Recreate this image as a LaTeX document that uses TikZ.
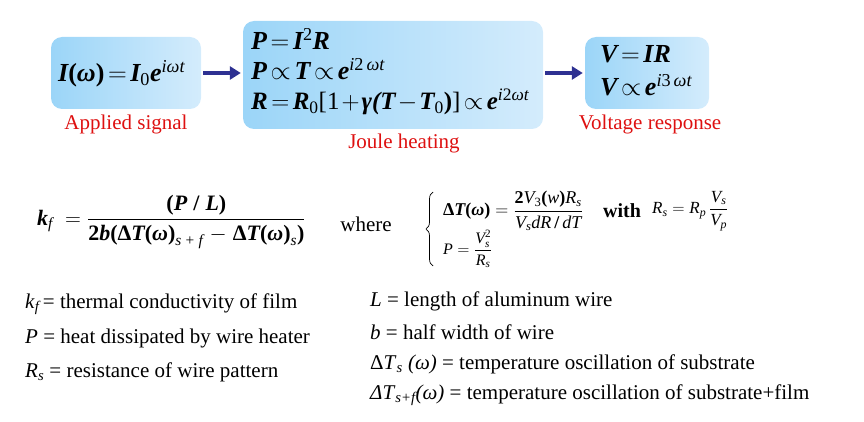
\RequirePackage{fix-cm}
\documentclass[tikz,border=0pt]{standalone}
\usepackage{amsmath}
\usepackage{fontspec}
\setmainfont{Liberation Serif}
\usetikzlibrary{decorations.pathreplacing,arrows.meta}
\newcommand\bi[1]{\text{\bfseries\itshape #1}}
\newcommand\ii[1]{\text{\normalfont\itshape #1}}
\newcommand\rr[1]{\text{\normalfont #1}}
\newcommand\bb[1]{\text{\normalfont\bfseries #1}}
\newcommand\tightmath{\thickmuskip=2.5mu\relax\medmuskip=1.5mu\relax}
\newcommand\widemath{\medmuskip=5mu\relax}
\definecolor{boxL}{RGB}{155,213,248}
\definecolor{boxR}{RGB}{212,236,252}
\definecolor{arrowc}{RGB}{46,49,146}
\definecolor{labred}{RGB}{222,16,16}
\tikzset{
  box/.style={rounded corners=11pt, left color=boxL, right color=boxR, draw=none, inner sep=0pt},
  arr/.style={draw=arrowc, line width=4.5pt, -{Triangle[length=11pt,width=13pt]}, shorten <=2pt, shorten >=2pt},
  eqbig/.style={anchor=base west, inner sep=0pt, font=\fontsize{26}{30}\selectfont},
  lab/.style={inner sep=0pt, text=labred, font=\fontsize{21}{24}\selectfont},
  deftext/.style={anchor=west, inner sep=0pt, font=\fontsize{21}{24}\selectfont},
}
\begin{document}
\begin{tikzpicture}[x=1pt,y=-1pt]
\useasboundingbox (0,0) rectangle (864,422);
% boxes
\node[box, minimum width=150pt, minimum height=72pt] (b1) at (126,73) {};
\node[box, minimum width=300pt, minimum height=108pt] (b2) at (393,75) {};
\node[box, minimum width=124pt, minimum height=72pt] (b3) at (647,73) {};
% box contents
\node[eqbig] (e1) at (58,82) {$\tightmath\bi{I}\bb{(}\bi{ω}\bb{)} = \bi{I}_{\rr{0}}\bi{e}^{\ii{iωt}}$};
\node[eqbig] (e2a) at (251,50) {$\tightmath\bi{P} = \bi{I}^{\rr{2}}\bi{R}$};
\node[eqbig] (e2b) at (251,80) {$\tightmath\bi{P} \propto \bi{T} \propto \bi{e}^{\ii{i}\rr{2}\,\ii{ωt}}$};
\node[eqbig, font=\fontsize{25}{30}\selectfont] (e2c) at (251,110) {$\tightmath\bi{R} = \bi{R}_{\rr{0}}\rr{[1} + \bi{γ}\bi{(}\bi{T} - \bi{T}_{\rr{0}}\bb{)}\rr{]} \propto \bi{e}^{\ii{i}\rr{2}\ii{ωt}}$};
\node[eqbig] (e3a) at (600,63) {$\tightmath\bi{V} = \bi{IR}$};
\node[eqbig] (e3b) at (600,96) {$\tightmath\bi{V} \propto \bi{e}^{\ii{i}\rr{3}\,\ii{ωt}}$};
% arrows
\draw[arr] (b1.east) -- (b2.west |- b1.east);
\draw[arr] (b2.east |- b3.west) -- (b3.west);
% labels
\node[lab] (l1) at (126,124) {Applied signal};
\node[lab] (l2) at (404,143) {Joule heating};
\node[lab] (l3) at (650,124) {Voltage response};
% main formula
\node[anchor=west, inner sep=0pt, font=\fontsize{22}{26}\selectfont] (kf) at (37,222)
 {$\widemath\bi{k}_{\ii{f}}\; = \dfrac{\bb{(}\bi{P}\;\bb{/}\;\bi{L}\bb{)}}{\bb{2}\bi{b}\bb{(Δ}\bi{T}\bb{(}\bi{ω}\bb{)}_{\ii{s}\;\rr{+}\;\ii{f}} - \bb{Δ}\bi{T}\bb{(}\bi{ω}\bb{)}_{\ii{s}}\bb{)}}$};
\node[inner sep=0pt, font=\fontsize{21}{24}\selectfont] (where) at (366,224) {where};
% brace
\coordinate (brt) at (433,192);
\coordinate (brb) at (433,266);
\draw[line width=0.7pt, decorate, decoration={brace, amplitude=7pt}] (brb) -- (brt);
\node[anchor=west, inner sep=0pt, font=\fontsize{18}{21}\selectfont] (dT) at (443,211)
 {$\bb{Δ}\bi{T}\bb{(}\bi{ω}\bb{)} = \dfrac{\bb{2}\ii{V}_{\rr{3}}\bb{(}\ii{w}\bb{)}\ii{R}_{\ii{s}}}{\ii{V}_{\ii{s}}\ii{dR}\,\bb{/}\,\ii{dT}}$};
\node[inner sep=0pt, font=\fontsize{20}{23}\selectfont\bfseries] (with) at (622,211) {with};
\node[anchor=west, inner sep=0pt, font=\fontsize{17}{20}\selectfont] (Rs) at (652,211)
 {$\ii{R}_{\ii{s}} = \ii{R}_{\ii{p}}\,\dfrac{\ii{V}_{\ii{s}}}{\ii{V}_{\ii{p}}}$};
\node[anchor=west, inner sep=0pt, font=\fontsize{16}{19}\selectfont] (Pf) at (443,249)
 {$\ii{P} = \dfrac{\ii{V}_{\ii{s}}^{\rr{2}}}{\ii{R}_{\ii{s}}}$};
% definitions
\node[deftext] (d1) at (25,304) {\textit{k}$_{\ii{f}}$\,= thermal conductivity of film};
\node[deftext] (d2) at (25,338) {\textit{P} = heat dissipated by wire heater};
\node[deftext] (d3) at (25,372) {\textit{R}$_{\ii{s}}$ = resistance of wire pattern};
\node[deftext] (d4) at (370,301) {\textit{L} = length of aluminum wire};
\node[deftext] (d5) at (370,332) {\textit{b} = half width of wire};
\node[deftext] (d6) at (370,364) {Δ\textit{T}$_{\ii{s}}$ \textit{(ω)} = temperature oscillation of substrate};
\node[deftext] (d7) at (370,395) {\textit{ΔT}$_{\ii{s+f}}$\textit{(ω)} = temperature oscillation of substrate+film};
\end{tikzpicture}
\end{document}
